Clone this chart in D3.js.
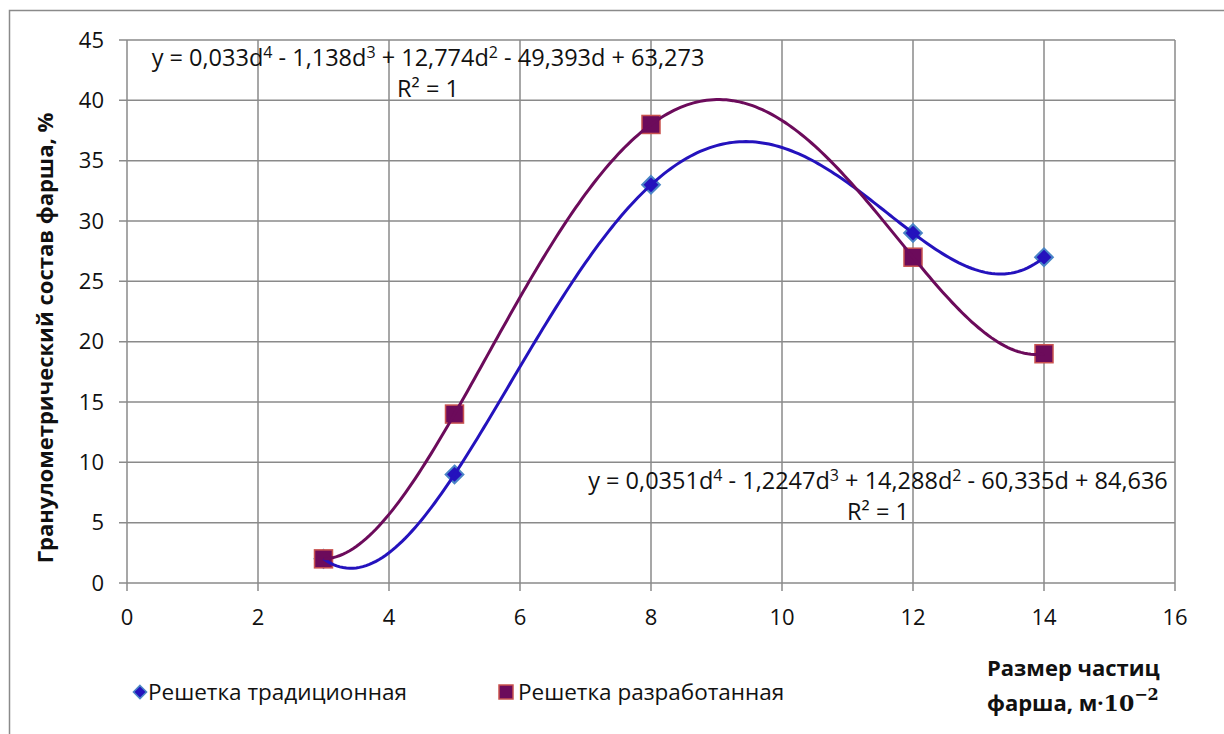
<!DOCTYPE html>
<html>
<head>
<meta charset="utf-8">
<script src="https://cdn.jsdelivr.net/npm/d3@7/dist/d3.min.js"></script>
<style>
  body { margin: 0; background: #fff; }
  svg { display: block; font-family: "Open Sans", sans-serif; }
</style>
</head>
<body>
<svg id="chart" width="1224" height="734"></svg>
<script>
// particle size, m·10^-2
const sizes = [3, 5, 8, 12, 14];
// granulometric composition, %
const traditional = [2, 9, 33, 29, 27];
const developed = [2, 14, 38, 27, 19];

// trendline equations as printed on the chart (d^4, d^3, d^2, d, const)
const labelTraditional = ["0,0351", "1,2247", "14,288", "60,335", "84,636"];
const signsTraditional = ["-", "+", "-", "+"];
const labelDeveloped = ["0,033", "1,138", "12,774", "49,393", "63,273"];
const signsDeveloped = ["-", "+", "-", "+"];

const xTicks = [0, 2, 4, 6, 8, 10, 12, 14, 16];
const yTicks = [0, 5, 10, 15, 20, 25, 30, 35, 40, 45];

const legendLabels = ["Решетка традиционная", "Решетка разработанная"];

const blue = "#2412bd", blueEdge = "#4a85c6";
const purple = "#6c0b5b", purpleEdge = "#c9534f";
const grid = "#8a8a8a";
const fs = 22;

const svg = d3.select("#chart");

// outer chart frame
svg.append("rect")
  .attr("x", 9.5).attr("y", 10.5)
  .attr("width", 1224).attr("height", 740)
  .attr("fill", "none")
  .attr("stroke", grid)
  .attr("stroke-width", 1.5);

const x = d3.scaleLinear().domain([0, 16]).range([127, 1175]);
const y = d3.scaleLinear().domain([0, 45]).range([583, 40]);

// gridlines + ticks
svg.append("g").selectAll("line")
  .data(yTicks)
  .join("line")
  .attr("x1", 119).attr("x2", 1175)
  .attr("y1", d => y(d)).attr("y2", d => y(d))
  .attr("stroke", grid).attr("stroke-width", 1.5);

svg.append("g").selectAll("line")
  .data(xTicks)
  .join("line")
  .attr("x1", d => x(d)).attr("x2", d => x(d))
  .attr("y1", 40).attr("y2", 591)
  .attr("stroke", grid).attr("stroke-width", 1.5);

svg.append("g").selectAll("text")
  .data(yTicks)
  .join("text")
  .attr("x", 104)
  .attr("y", d => y(d))
  .attr("dy", "0.35em")
  .attr("text-anchor", "end")
  .attr("font-size", fs)
  .attr("fill", "#111")
  .text(d => d);

svg.append("g").selectAll("text")
  .data(xTicks)
  .join("text")
  .attr("x", d => x(d))
  .attr("y", 617)
  .attr("dy", "0.35em")
  .attr("text-anchor", "middle")
  .attr("font-size", fs)
  .attr("fill", "#111")
  .text(d => d);

// axis titles
svg.append("text")
  .attr("transform", "translate(45,338) rotate(-90)")
  .attr("text-anchor", "middle")
  .attr("dy", "0.35em")
  .attr("font-size", 22)
  .attr("font-weight", "bold")
  .attr("fill", "#111")
  .text("Гранулометрический состав фарша, %");

const xTitle = svg.append("text")
  .attr("font-size", 22)
  .attr("font-weight", "bold")
  .attr("fill", "#111");
xTitle.append("tspan").attr("x", 987).attr("y", 676).text("Размер частиц");
const l2 = xTitle.append("tspan").attr("x", 987).attr("y", 711);
l2.append("tspan").text("фарша, м·");
l2.append("tspan").attr("font-family", "DejaVu Serif").attr("font-size", 22).text("10");
l2.append("tspan").attr("font-family", "DejaVu Serif").attr("font-size", 16).attr("dy", -11).text("−2");

// markers
const pts = (ys) => sizes.map((s, i) => [s, ys[i]]);

svg.append("g").selectAll("path")
  .data(pts(traditional))
  .join("path")
  .attr("transform", d => `translate(${x(d[0])},${y(d[1])})`)
  .attr("d", d3.symbol(d3.symbolDiamond2, 200))
  .attr("fill", blue)
  .attr("stroke", blueEdge)
  .attr("stroke-width", 2);

svg.append("g").selectAll("rect")
  .data(pts(developed))
  .join("rect")
  .attr("x", d => x(d[0]) - 9)
  .attr("y", d => y(d[1]) - 9)
  .attr("width", 18).attr("height", 18)
  .attr("fill", purple)
  .attr("stroke", purpleEdge)
  .attr("stroke-width", 1.5);

// 4th-degree polynomial trendline through 5 points (exact fit, R² = 1)
function trend(xsData, ysData) {
  return t => d3.sum(xsData, (xi, i) => {
    let w = ysData[i];
    xsData.forEach((xj, j) => { if (j !== i) w *= (t - xj) / (xi - xj); });
    return w;
  });
}
const xs = d3.range(d3.min(sizes), d3.max(sizes) + 0.001, 0.05);
const line = d3.line().x(d => x(d[0])).y(d => y(d[1]));

[[traditional, blue], [developed, purple]].forEach(([vals, col]) => {
  const f = trend(sizes, vals);
  svg.append("path")
    .datum(xs.map(d => [d, f(d)]))
    .attr("fill", "none")
    .attr("stroke", col)
    .attr("stroke-width", 3)
    .attr("d", line);
});

// trendline equation labels
function equation(c, s, cx, cy) {
  const t = svg.append("text")
    .attr("text-anchor", "middle")
    .attr("font-size", 23.5)
    .attr("fill", "#111");
  const l = t.append("tspan").attr("x", cx).attr("y", cy);
  l.append("tspan").text(`y = ${c[0]}d`);
  [4, 3, 2].forEach((p, i) => {
    l.append("tspan").attr("font-size", 16).attr("dy", -8).text(p);
    l.append("tspan").attr("dy", 8).text(` ${s[i]} ${c[i + 1]}d`);
  });
  l.append("tspan").text(` ${s[3]} ${c[4]}`);
  t.append("tspan").attr("x", cx).attr("y", cy + 31).text("R² = 1");
}
equation(labelDeveloped, signsDeveloped, 428, 66);
equation(labelTraditional, signsTraditional, 878, 489);

// legend
const legend = svg.append("g");
legend.append("path")
  .attr("transform", "translate(140,692)")
  .attr("d", d3.symbol(d3.symbolDiamond2, 110))
  .attr("fill", blue)
  .attr("stroke", blueEdge)
  .attr("stroke-width", 1.5);
legend.append("text")
  .attr("x", 148).attr("y", 692).attr("dy", "0.35em")
  .attr("font-size", 22.5).attr("fill", "#111")
  .text(legendLabels[0]);
legend.append("rect")
  .attr("x", 499).attr("y", 685)
  .attr("width", 14).attr("height", 14)
  .attr("fill", purple)
  .attr("stroke", purpleEdge)
  .attr("stroke-width", 1.5);
legend.append("text")
  .attr("x", 518).attr("y", 692).attr("dy", "0.35em")
  .attr("font-size", 22.5).attr("fill", "#111")
  .text(legendLabels[1]);
</script>
</body>
</html>
